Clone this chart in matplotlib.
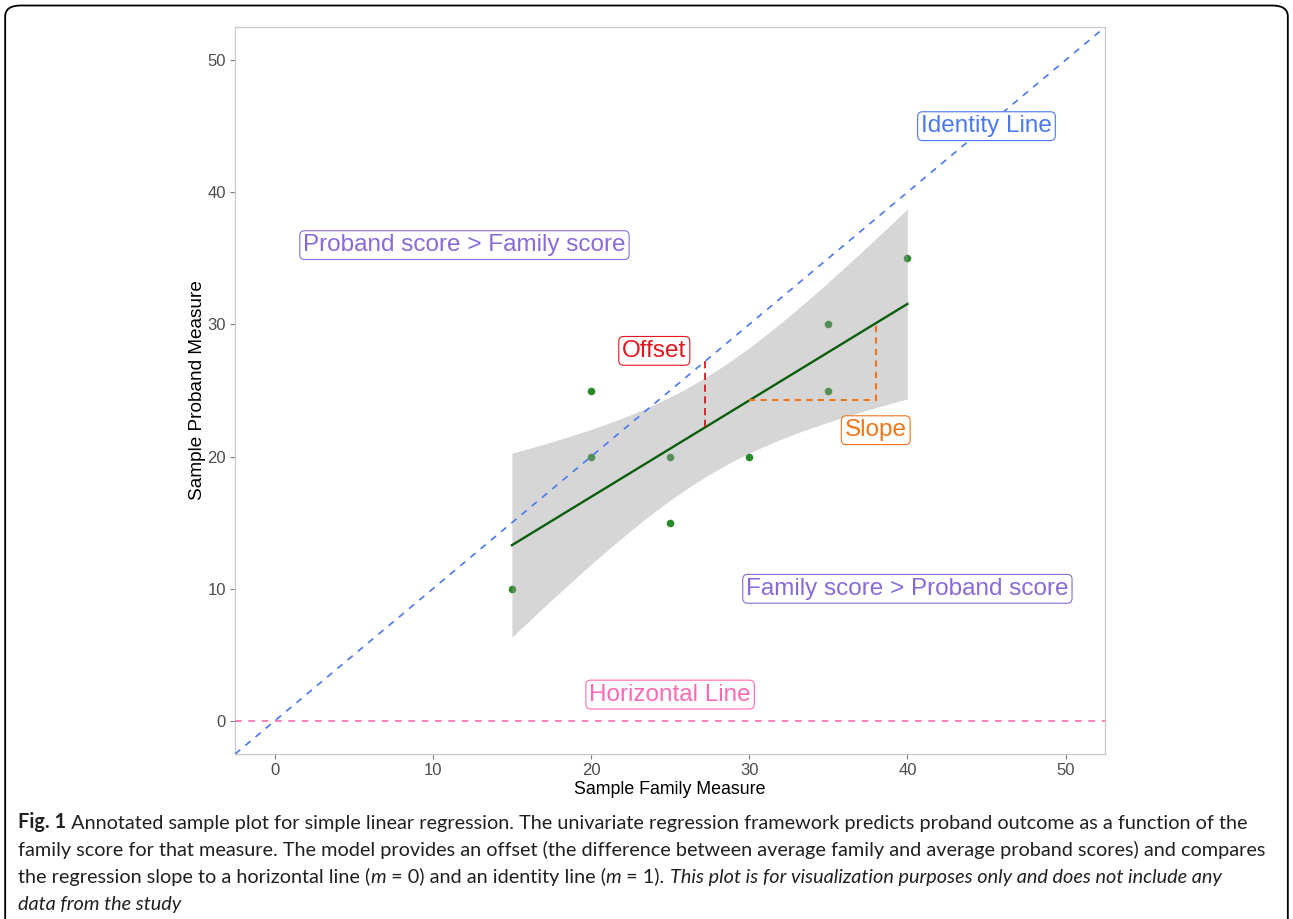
import numpy as np
import matplotlib
matplotlib.use('Agg')
import matplotlib.pyplot as plt
from matplotlib.patches import FancyBboxPatch

# sample data (illustrative points from the figure)
family  = np.array([15, 20, 20, 25, 25, 30, 35, 35, 40])
proband = np.array([10, 25, 20, 20, 15, 20, 30, 25, 35])

ticks = [0, 10, 20, 30, 40, 50]

labels = {
    'Identity Line':                (45, 45, '#4A78F0'),
    'Proband score > Family score': (12, 36, '#8A6AD8'),
    'Family score > Proband score': (40, 10, '#8A6AD8'),
    'Offset':                       (24, 28, '#E8141B'),
    'Slope':                        (38, 22, '#F07518'),
    'Horizontal Line':              (25, 2,  '#FF69B4'),
}

T_975_DF7 = 2.365  # t quantile for 95% band, n-2 = 7

plt.rcParams['font.family'] = ['Liberation Sans', 'DejaVu Sans']

fig = plt.figure(figsize=(12.93, 9.19), dpi=100)
ax = fig.add_axes([0.1818, 0.1795, 0.6729, 0.7911])

# linear fit + confidence band (like geom_smooth(method='lm'))
slope, icpt = np.polyfit(family, proband, 1)
xs = np.linspace(family.min(), family.max(), 80)
fit = icpt + slope * xs
n = len(family)
resid = proband - (icpt + slope * family)
s = np.sqrt(np.sum(resid ** 2) / (n - 2))
xm = family.mean()
ym = proband.mean()
sxx = np.sum((family - xm) ** 2)
se = s * np.sqrt(1 / n + (xs - xm) ** 2 / sxx)

ax.scatter(family, proband, s=30, color='#2A8A2A', zorder=2, linewidths=0)
ax.fill_between(xs, fit - T_975_DF7 * se, fit + T_975_DF7 * se,
                color='#999999', alpha=0.4, linewidth=0, zorder=3)
ax.plot(xs, fit, color='#0B5E0B', lw=1.7, zorder=4)

# reference lines
lim = np.array([-2.5, 52.5])
ax.plot(lim, lim, color='#4A78F0', lw=1.2, ls=(0, (4, 4)), zorder=5)
ax.axhline(0, color='#FF69B4', lw=1.2, ls=(0, (4, 4)), zorder=5)

# offset and slope markers
ax.plot([xm, xm], [icpt + slope * xm, xm], color='#E8141B', lw=1.3,
        ls=(0, (4, 2.5)), zorder=6)
y30 = icpt + slope * 30
ax.plot([30, 38, 38], [y30, y30, icpt + slope * 38], color='#F07518', lw=1.5,
        ls=(0, (3, 2.5)), zorder=6)

for txt, (x, y, c) in labels.items():
    ax.text(x, y, txt, color=c, fontsize=17.5, ha='center', va='center', zorder=7,
            bbox=dict(boxstyle='round,pad=0.14,rounding_size=0.2', fc='white',
                      ec=c, lw=0.8))

ax.set_xlim(lim)
ax.set_ylim(lim)
ax.set_xticks(ticks)
ax.set_yticks(ticks)
ax.tick_params(colors='#7F7F7F', labelcolor='#4D4D4D', labelsize=12,
               length=3.5, width=0.8, pad=3)
for sp in ax.spines.values():
    sp.set_color('#C8C8C8')
    sp.set_linewidth(0.9)
ax.set_xlabel('Sample Family Measure', fontsize=12.8, color='black', labelpad=2)
ax.set_ylabel('Sample Proband Measure', fontsize=13.7, color='black', labelpad=1)

# figure frame
frame = FancyBboxPatch((0.004, -0.05), 0.992, 1.044,
                       boxstyle='round,pad=0,rounding_size=0.012',
                       transform=fig.transFigure, fc='none', ec='black', lw=1.3)
fig.patches.append(frame)

# caption, drawn piece by piece so bold / italic parts follow each other
cap_font = ['Lato', 'DejaVu Sans']
cap_size = 14.35
lines = [
    [('Fig. 1', 'bold', 'normal'),
     (' Annotated sample plot for simple linear regression. The univariate regression '
      'framework predicts proband outcome as a function of the', 'normal', 'normal')],
    [('family score for that measure. The model provides an offset (the difference between '
      'average family and average proband scores) and compares', 'normal', 'normal')],
    [('the regression slope to a horizontal line (', 'normal', 'normal'),
     ('m', 'normal', 'italic'),
     (' = 0) and an identity line (', 'normal', 'normal'),
     ('m', 'normal', 'italic'),
     (' = 1). ', 'normal', 'normal'),
     ('This plot is for visualization purposes only and does not include any',
      'normal', 'italic')],
    [('data from the study', 'normal', 'italic')],
]
line_y = [0.0995, 0.0690, 0.0396, 0.0102]
for parts, yy in zip(lines, line_y):
    prev = None
    for txt, wt, st in parts:
        if prev is None:
            prev = fig.text(0.0139, yy, txt, fontsize=cap_size, family=cap_font,
                            weight=wt, style=st, va='baseline', color='#231F20')
        else:
            prev = ax.annotate(txt, xy=(1, 0), xycoords=prev, fontsize=cap_size,
                               family=cap_font, weight=wt, style=st,
                               va='bottom', ha='left', color='#231F20',
                               annotation_clip=False)

fig.savefig('out.png', dpi=100)
